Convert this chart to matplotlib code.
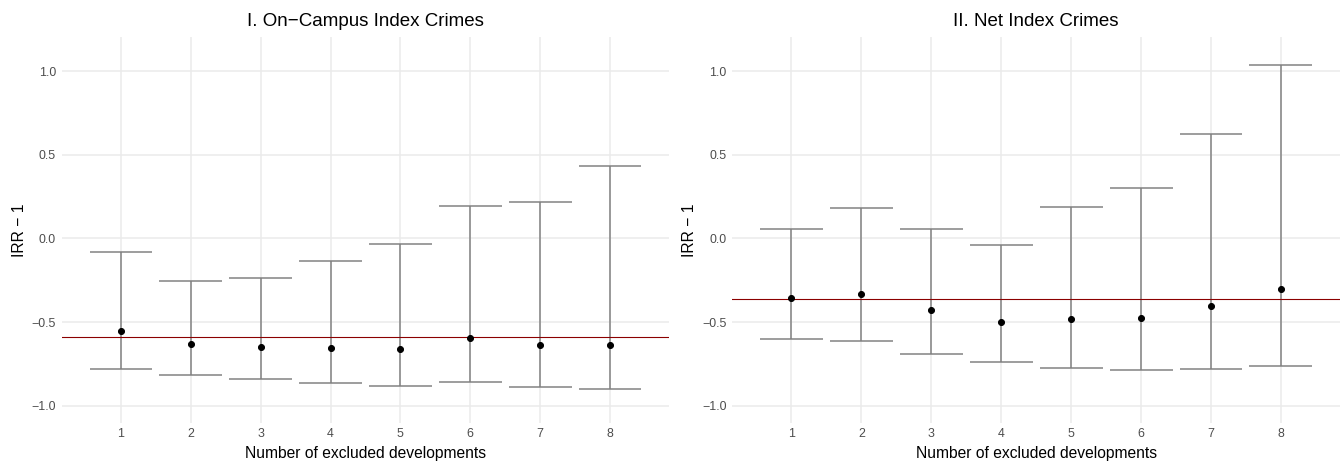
import matplotlib.pyplot as plt
import numpy as np

plt.rcParams['font.family'] = ['Liberation Sans', 'DejaVu Sans']

# number of excluded developments
excluded = [1, 2, 3, 4, 5, 6, 7, 8]

# I. on-campus index crimes: IRR - 1 with 95% interval
campus_est = [-0.553, -0.630, -0.650, -0.656, -0.664, -0.594, -0.638, -0.636]
campus_lo = [-0.779, -0.815, -0.841, -0.863, -0.883, -0.861, -0.891, -0.903]
campus_hi = [-0.083, -0.252, -0.239, -0.133, -0.032, 0.195, 0.215, 0.435]
campus_full = -0.588

# II. net index crimes
net_est = [-0.354, -0.330, -0.431, -0.501, -0.482, -0.474, -0.402, -0.302]
net_lo = [-0.602, -0.616, -0.692, -0.738, -0.772, -0.786, -0.780, -0.760]
net_hi = [0.056, 0.183, 0.056, -0.038, 0.185, 0.302, 0.623, 1.037]
net_full = -0.362

titles = ["I. On\u2212Campus Index Crimes", "II. Net Index Crimes"]

W, H = 1343, 464
dpi = 72
fig = plt.figure(figsize=(W / dpi, H / dpi), dpi=dpi)

grid_col = '#EBEBEB'
bar_col = '#808080'
cap_w = 0.9


def panel(rect, title, est, lo, hi, ref):
    ax = fig.add_axes(rect)
    x = np.array(excluded)
    ax.set_xlim(0.155, 8.845)
    ax.set_ylim(-1.105, 1.205)
    ax.set_xticks(excluded)
    ax.set_yticks([-1.0, -0.5, 0.0, 0.5, 1.0])
    ax.set_yticklabels(['\u22121.0', '\u22120.5', '0.0', '0.5', '1.0'])
    ax.grid(True, color=grid_col, linewidth=1.5, zorder=0)
    ax.set_axisbelow(True)
    for s in ax.spines.values():
        s.set_visible(False)
    ax.tick_params(length=0, labelsize=12.4, labelcolor='#4D4D4D')
    ax.tick_params(axis='y', pad=6)
    ax.tick_params(axis='x', pad=5)

    ax.vlines(x, lo, hi, color=bar_col, linewidth=1.5, zorder=2)
    ax.hlines(lo, x - cap_w / 2, x + cap_w / 2, color=bar_col, linewidth=1.5, zorder=2)
    ax.hlines(hi, x - cap_w / 2, x + cap_w / 2, color=bar_col, linewidth=1.5, zorder=2)
    ax.axhline(ref, color='#8B0000', linewidth=1.1, zorder=3)
    ax.plot(x, est, 'o', color='black', markersize=6, zorder=4)

    ax.set_title(title, fontsize=18.8, pad=11)
    ax.set_xlabel('Number of excluded developments', fontsize=15.6, labelpad=6)
    ax.set_ylabel('IRR \u2212 1', fontsize=15.6, labelpad=5)
    return ax


bottom = (H - 423.3) / H
height = 386.6 / H
panel([62 / W, bottom, 607 / W, height], titles[0],
      campus_est, campus_lo, campus_hi, campus_full)
panel([732.4 / W, bottom, 607.6 / W, height], titles[1],
      net_est, net_lo, net_hi, net_full)

fig.savefig('out.png', dpi=dpi, facecolor='white')
